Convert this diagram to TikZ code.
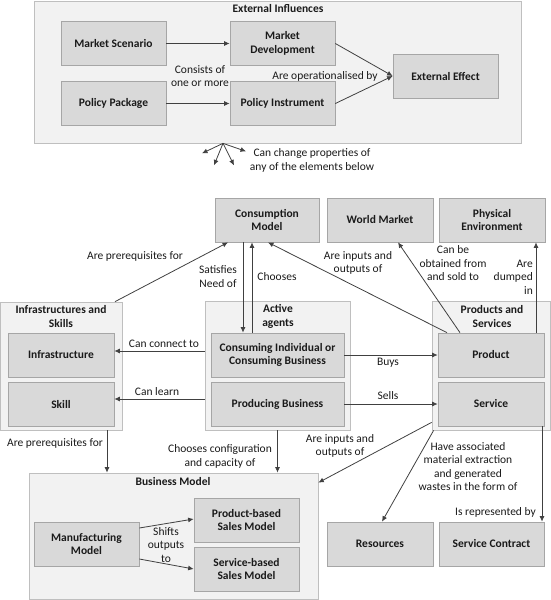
\documentclass[tikz,border=0pt]{standalone}
\usepackage{fontspec}
\setmainfont{Carlito}
\usetikzlibrary{calc,arrows.meta}
\definecolor{boxfill}{HTML}{D9D9D9}
\definecolor{boxline}{HTML}{A6A6A6}
\definecolor{grpfill}{HTML}{F2F2F2}
\definecolor{grpline}{HTML}{BFBFBF}
\definecolor{arrline}{HTML}{404040}
\definecolor{txt}{HTML}{1A1A1A}
\begin{document}
\begin{tikzpicture}[x=1pt,y=-1pt,
  every node/.style={font=\fontsize{11.5}{13.5}\selectfont, text=txt, align=center, inner sep=0pt},
  box/.style={draw=boxline, line width=0.7pt, fill=boxfill, minimum width=105pt, minimum height=44pt, font=\fontsize{11.5}{13.5}\selectfont\bfseries},
  grp/.style={draw=grpline, line width=0.7pt, fill=grpfill},
  title/.style={font=\fontsize{11.5}{13.5}\selectfont\bfseries},
  arr/.style={draw=arrline, line width=0.8pt, -{Latex[length=5.5pt,width=5pt]}}]
  \useasboundingbox (0,0) rectangle (551,600);
  % external influences
  \node[grp, minimum width=487pt, minimum height=142pt] (ext) at (277.5,72) {};
  \node[title] (exttitle) at (278,8.5) {External Influences};
  \node[box] (ms) at (113.5,43.5) {Market Scenario};
  \node[box] (md) at (282.5,43.5) {Market\\Development};
  \node[box] (pp) at (113.5,103.5) {Policy Package};
  \node[box] (pi) at (282.5,103.5) {Policy Instrument};
  \node[box] (ee) at (445.5,76) {External Effect};
  \draw[arr] (ms) -- (md);
  \draw[arr] (pp) -- (pi);
  \draw[arr] (md.east) -- (ee.west);
  \draw[arr] (pi.east) -- (ee.west);
  \node (consists) at (200,76) {Consists of\\one or more};
  \node (operat) at (325,76) {Are operationalised by};
  % fan below
  \coordinate (fan) at ([xshift=-54.5pt]ext.south);
  \foreach \dx/\dy in {-21/10,-9/22,11/22,23/8}
    \draw[arr] (fan) -- ++(\dx,\dy);
  \node (canchange) at (312,160.5) {Can change properties of\\any of the elements below};
  % top row
  \node[box, minimum width=104pt] (cm) at (267,220) {Consumption\\Model};
  \node[box, minimum width=106pt] (wm) at (380,220) {World Market};
  \node[box, minimum width=106pt] (pe) at (492,220) {Physical\\Environment};
  % groups in the middle
  \node[grp, minimum width=122pt, minimum height=128pt] (infc) at (61,366) {};
  \node[title] (infctitle) at (61,316.5) {Infrastructures and\\Skills};
  \node[box, minimum width=106pt] (infra) at (61,355) {Infrastructure};
  \node[box, minimum width=106pt] (skill) at (61,404) {Skill};
  \node[grp, minimum width=145pt, minimum height=129pt] (aa) at (277.5,365.5) {};
  \node[title] (aatitle) at (278,316.5) {Active\\agents};
  \node[box, minimum width=133pt] (ci) at (277.5,355) {Consuming Individual or\\Consuming Business};
  \node[box, minimum width=133pt] (pb) at (277.5,404) {Producing Business};
  \node[grp, minimum width=118pt, minimum height=129pt] (psc) at (491,365.5) {};
  \node[title] (psctitle) at (492,316.5) {Products and\\Services};
  \node[box, minimum width=106pt] (prod) at (491,355) {Product};
  \node[box, minimum width=106pt] (serv) at (491,404) {Service};
  % business model
  \node[grp, minimum width=289pt, minimum height=126pt] (bm) at (173.5,536) {};
  \node[title] (bmtitle) at (173,482) {Business Model};
  \node[box] (mm) at (86.5,544) {Manufacturing\\Model};
  \node[box] (pbs) at (246.5,520) {Product-based\\Sales Model};
  \node[box] (sbs) at (246.5,569) {Service-based\\Sales Model};
  \node[box, minimum width=106pt] (res) at (380,544) {Resources};
  \node[box] (sc) at (491.5,544) {Service Contract};
  % connectors
  \draw[arr] ([xshift=54pt]infc.north) -- ([xshift=-39pt]cm.south);
  \node (prereq1) at (135,256) {Are prerequisites for};
  \draw[arr] ([xshift=-24pt]cm.south) -- ([xshift=-34.5pt]ci.north);
  \draw[arr] ([xshift=-25.5pt]ci.north) -- ([xshift=-15pt]cm.south);
  \node (satisfies) at (218,276.5) {Satisfies\\Need of};
  \node (chooses) at (277,277) {Chooses};
  \draw[arr] ([xshift=-44pt]prod.north) -- ([xshift=1pt]cm.south);
  \node (inout1) at (358,263) {Are inputs and\\outputs of};
  \draw[arr] ([xshift=-31pt]prod.north) -- ([xshift=18pt]wm.south);
  \node (obtained) at (453,263.5) {Can be\\obtained from\\and sold to};
  \draw[arr] ([xshift=45pt]prod.north) -- ([xshift=44pt]pe.south);
  \node[anchor=east, align=right] (dumped) at (533,277) {Are\\dumped\\in};
  \draw[arr] (ci) -- (prod);
  \node (buys) at (388,363) {Buys};
  \draw[arr] (pb) -- (serv);
  \node (sells) at (388,396) {Sells};
  \draw[arr] ($(aa.west |- infra.east)+(0,-4)$) -- ($(infra.east)+(0,-4)$);
  \node (connect) at (164,344) {Can connect to};
  \draw[arr] ($(aa.west |- skill.east)+(0,-5)$) -- ($(skill.east)+(0,-5)$);
  \node (learn) at (157,392) {Can learn};
  \draw[arr] ([xshift=46pt]infc.south) -- ([xshift=46pt]infc.south |- bm.north);
  \node (prereq2) at (55,443) {Are prerequisites for};
  \draw[arr] (aa.south) -- (aa.south |- bm.north);
  \node (config) at (220,456.5) {Chooses configuration\\and capacity of};
  \draw[arr] ([yshift=8pt]psc.south west) -- ([yshift=-10pt]bm.north east);
  \node (inout2) at (340,446) {Are inputs and\\outputs of};
  \draw[arr] ([xshift=2pt]psc.south west) -- ([xshift=2pt]res.north);
  \node (extraction) at (468,466.5) {Have associated\\material extraction\\and generated\\wastes in the form of};
  \draw[arr] ([xshift=51pt]serv.south) -- ([xshift=51pt]serv.south |- sc.north);
  \node[anchor=east] (represented) at (536,512) {Is represented by};
  \draw[arr] ([yshift=16pt]mm.east) -- ([yshift=1pt]pbs.west);
  \draw[arr] ([yshift=-15pt]mm.east) -- (sbs.west);
  \node (shifts) at (166,545) {Shifts\\outputs\\to};
\end{tikzpicture}
\end{document}
